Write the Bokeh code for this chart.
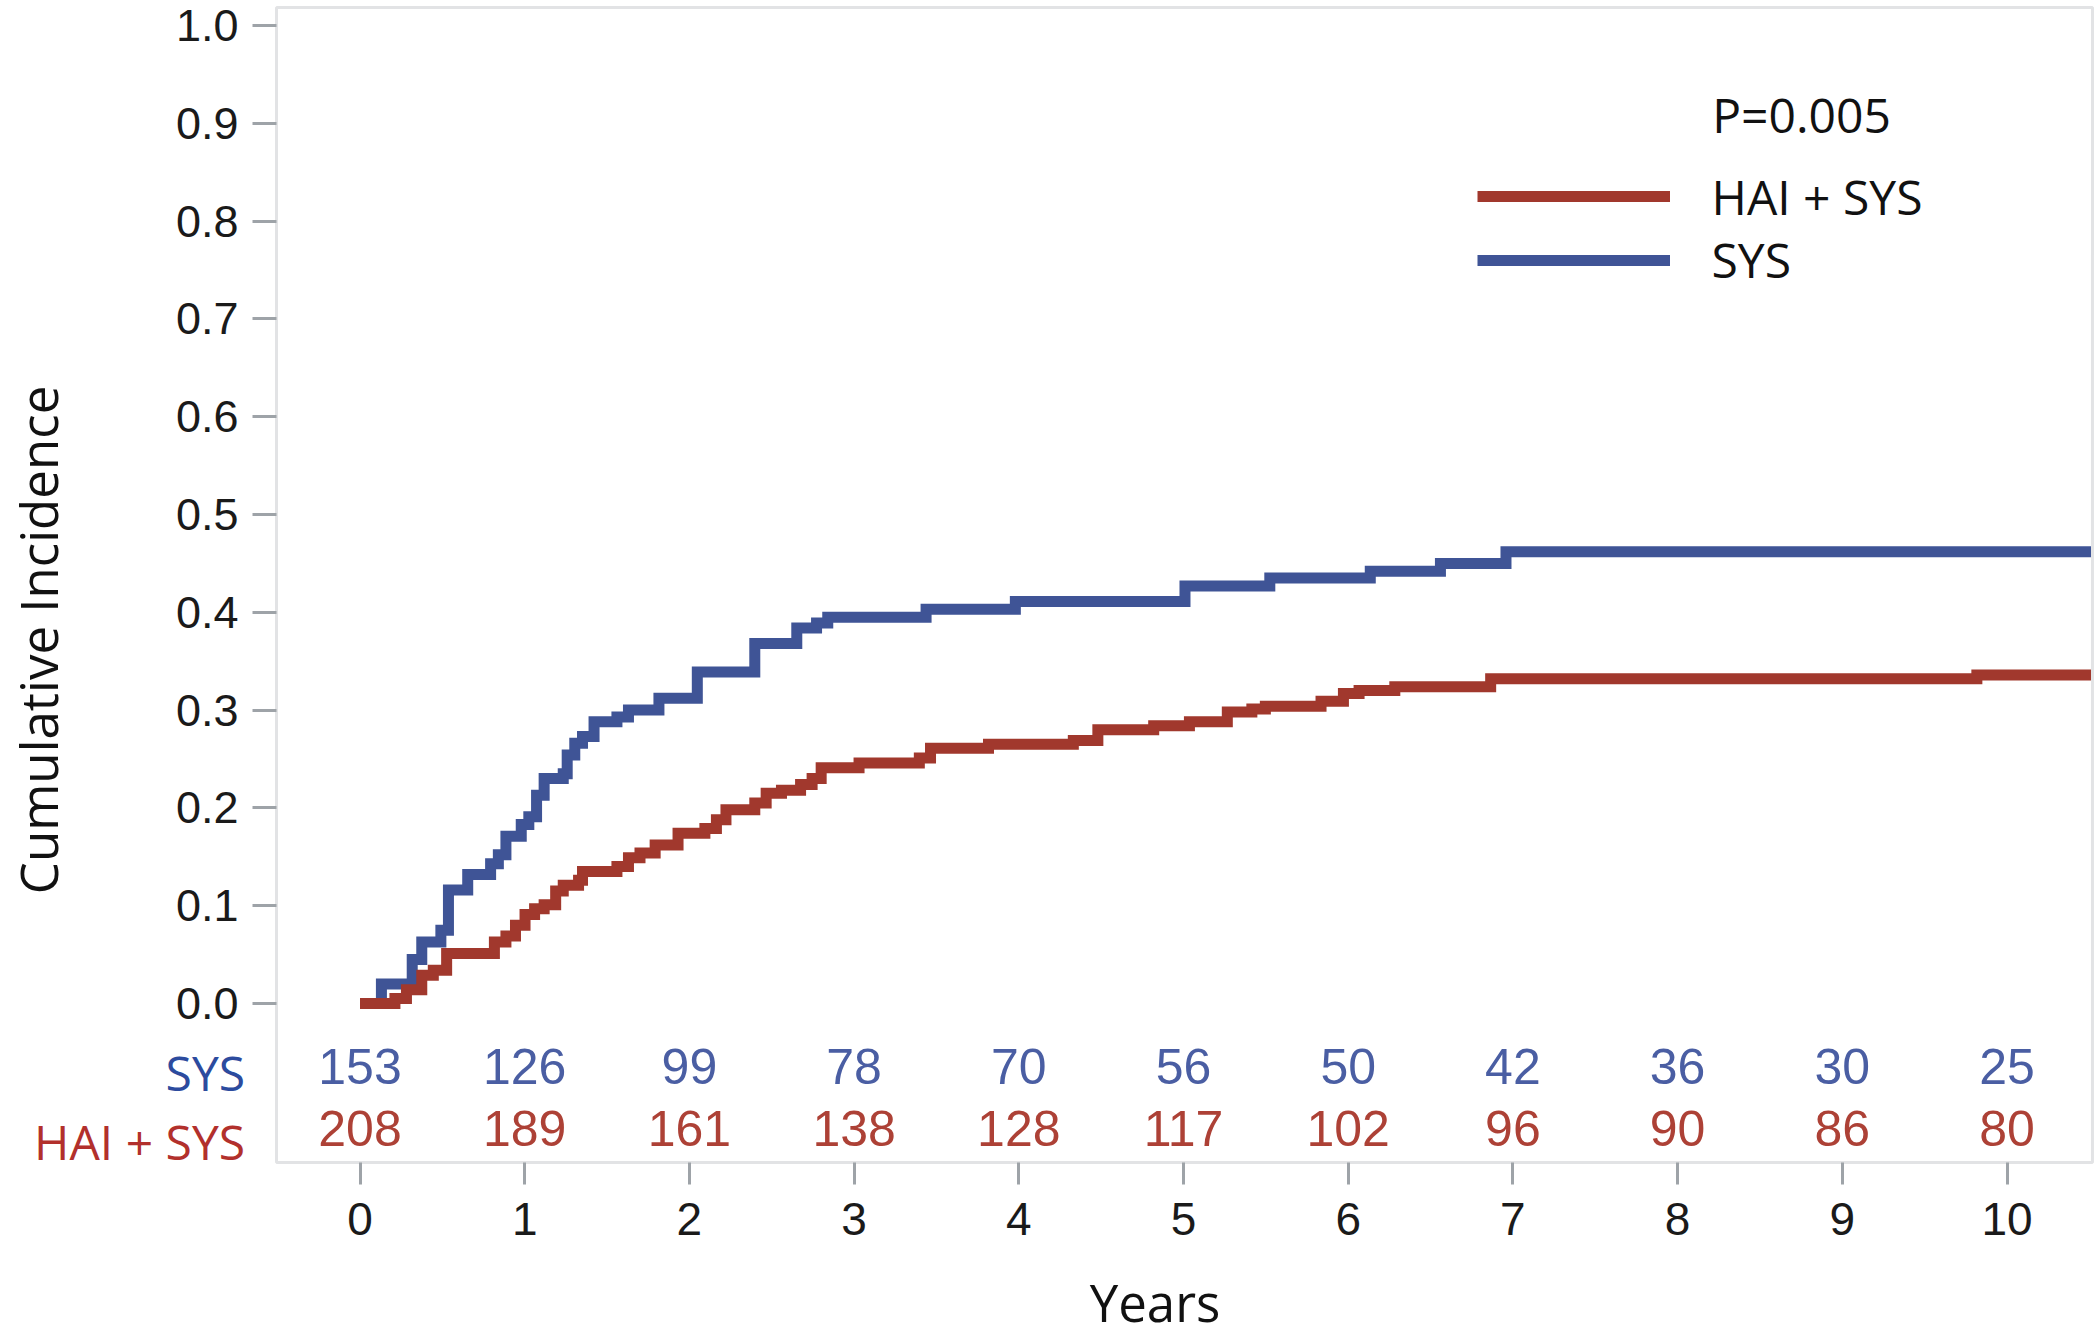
from bokeh.plotting import figure
from bokeh.models import (Range1d, FixedTicker, PrintfTickFormatter, Label, Legend, LegendItem,
                          ColumnDataSource, BoxAnnotation)
from bokeh.core.properties import value
from bokeh.embed import file_html
from bokeh.resources import INLINE

# ---- data ----
hai_t = [0.0, 0.212, 0.282, 0.375, 0.445, 0.526, 0.816, 0.886, 0.944, 1.002, 1.06, 1.118,
         1.188, 1.234, 1.327, 1.351, 1.56, 1.63, 1.70, 1.792, 1.931, 2.094, 2.164, 2.222,
         2.397, 2.466, 2.559, 2.675, 2.745, 2.80, 3.03, 3.396, 3.464, 3.816, 4.331, 4.48,
         4.819, 5.036, 5.266, 5.415, 5.497, 5.835, 5.971, 6.066, 6.283, 6.865, 9.817, 10.51]
hai_ci = [0.0, 0.005, 0.014, 0.029, 0.034, 0.051, 0.063, 0.069, 0.080, 0.091, 0.097, 0.101,
          0.115, 0.121, 0.126, 0.135, 0.140, 0.149, 0.154, 0.162, 0.174, 0.179, 0.188, 0.198,
          0.205, 0.215, 0.218, 0.224, 0.230, 0.241, 0.246, 0.251, 0.261, 0.265, 0.269, 0.280,
          0.284, 0.288, 0.298, 0.301, 0.304, 0.309, 0.317, 0.320, 0.324, 0.332, 0.336, 0.336]

sys_t = [0.0, 0.13, 0.317, 0.375, 0.491, 0.537, 0.654, 0.793, 0.840, 0.886, 0.979, 1.025,
         1.072, 1.118, 1.234, 1.258, 1.304, 1.351, 1.421, 1.56, 1.63, 1.815, 2.048, 2.397,
         2.652, 2.772, 2.840, 3.437, 3.979, 5.009, 5.524, 6.134, 6.56, 6.958, 10.51]
sys_ci = [0.0, 0.020, 0.045, 0.063, 0.075, 0.116, 0.132, 0.143, 0.152, 0.171, 0.183, 0.191,
          0.213, 0.230, 0.235, 0.254, 0.266, 0.273, 0.288, 0.293, 0.300, 0.312, 0.339, 0.368,
          0.384, 0.389, 0.395, 0.403, 0.411, 0.427, 0.435, 0.442, 0.450, 0.462, 0.462]

years = [0, 1, 2, 3, 4, 5, 6, 7, 8, 9, 10]
sys_at_risk = [153, 126, 99, 78, 70, 56, 50, 42, 36, 30, 25]
hai_at_risk = [208, 189, 161, 138, 128, 117, 102, 96, 90, 86, 80]
y_ticks = [0.0, 0.1, 0.2, 0.3, 0.4, 0.5, 0.6, 0.7, 0.8, 0.9, 1.0]

group_names = ["HAI + SYS", "SYS"]
p_value_text = "P=0.005"
x_title = "Years"
y_title = "Cumulative Incidence"

# ---- styles ----
BLUE = "#3f5496"
RED = "#a1382d"
BLUE_NUM = "#4a5ea3"
RED_NUM = "#ad4136"
BLUE_LAB = "#2c4b9e"
RED_LAB = "#b2302c"
GRAY = "#9ea3a8"
INK = "#111111"

# visible plot box (data units)
BOX_L, BOX_R, BOX_B, BOX_T = -0.507, 10.519, -0.1626, 1.0184

W, H = 2100, 1337
p = figure(width=W, height=H, output_backend="svg", toolbar_location=None,
           x_range=Range1d(-2.1828, 10.5677), y_range=Range1d(-0.34151, 1.02556),
           min_border=0)
p.min_border_left = 0
p.min_border_right = 0
p.min_border_top = 0
p.min_border_bottom = 0

p.background_fill_color = "white"
p.border_fill_color = "white"
p.outline_line_color = None
p.xgrid.visible = False
p.ygrid.visible = False

p.add_layout(BoxAnnotation(left=BOX_L, right=BOX_R, bottom=BOX_B, top=BOX_T,
                           fill_alpha=0, line_color=GRAY, line_width=3, level="underlay"))

for ax in (p.xaxis[0], p.yaxis[0]):
    ax.axis_line_color = None
    ax.major_tick_line_color = GRAY
    ax.major_tick_line_width = 3
    ax.major_tick_in = 0
    ax.minor_tick_line_color = None
    ax.major_label_text_font = "Liberation Sans"
    ax.major_label_text_color = "#1a1a1a"

p.xaxis.fixed_location = BOX_B
p.xaxis.ticker = FixedTicker(ticks=years)
p.xaxis.major_tick_out = 22
p.xaxis.major_label_standoff = 18
p.xaxis.major_label_text_font_size = "46px"

p.yaxis.fixed_location = BOX_L
p.yaxis.ticker = FixedTicker(ticks=y_ticks)
p.yaxis.formatter = PrintfTickFormatter(format="%.1f")
p.yaxis.major_tick_out = 24
p.yaxis.major_label_standoff = 14
p.yaxis.major_label_text_font_size = "45px"

sys_src = ColumnDataSource(dict(t=sys_t, ci=sys_ci))
hai_src = ColumnDataSource(dict(t=hai_t, ci=hai_ci))
r_sys = p.step("t", "ci", source=sys_src, mode="after", line_color=BLUE, line_width=11,
               line_join="miter", line_cap="butt")
r_hai = p.step("t", "ci", source=hai_src, mode="after", line_color=RED, line_width=11,
               line_join="miter", line_cap="butt")

# numbers at risk
p.text(x=years, y=[-0.0644] * len(years), text=[str(v) for v in sys_at_risk],
       text_align="center", text_baseline="middle", text_color=BLUE_NUM,
       text_font=value("Liberation Sans"), text_font_size="50px")
p.text(x=years, y=[-0.1278] * len(years), text=[str(v) for v in hai_at_risk],
       text_align="center", text_baseline="middle", text_color=RED_NUM,
       text_font=value("Liberation Sans"), text_font_size="50px")

# row labels of the risk table
p.add_layout(Label(x=-0.698, y=-0.0701, text=group_names[1], text_align="right",
                   text_baseline="middle", text_color=BLUE_LAB,
                   text_font="Open Sans", text_font_size="48px"))
p.add_layout(Label(x=-0.698, y=-0.1416, text=group_names[0], text_align="right",
                   text_baseline="middle", text_color=RED_LAB,
                   text_font="Open Sans", text_font_size="48px"))

# axis titles
p.add_layout(Label(x=-1.955, y=0.3717, text=y_title, angle=90, angle_units="deg",
                   text_align="center", text_baseline="middle", text_color=INK,
                   text_font="Open Sans", text_font_size="51px"))
p.add_layout(Label(x=4.827, y=-0.3050, text=x_title, text_align="center",
                   text_baseline="middle", text_color=INK,
                   text_font="Open Sans", text_font_size="51px"))

# p-value
p.add_layout(Label(x=8.21, y=0.9095, text=p_value_text, text_align="left",
                   text_baseline="middle", text_color=INK,
                   text_font="Open Sans", text_font_size="48px"))

# legend: one legend per item for exact vertical placement
def make_legend(label, renderer, loc):
    lg = Legend(items=[LegendItem(label=label, renderers=[renderer])], location=loc,
                glyph_width=193, glyph_height=80, label_height=80, label_standoff=42,
                padding=0, margin=0, spacing=0, border_line_alpha=0, background_fill_alpha=0,
                label_text_font="Open Sans", label_text_font_size="48px",
                label_text_color=INK, label_text_baseline="middle")
    p.add_layout(lg, "center")

make_legend(group_names[0], r_hai, (1476.5, 1101))
make_legend(group_names[1], r_sys, (1476.5, 1037.5))

open("out.html", "w").write(file_html(p, INLINE))
